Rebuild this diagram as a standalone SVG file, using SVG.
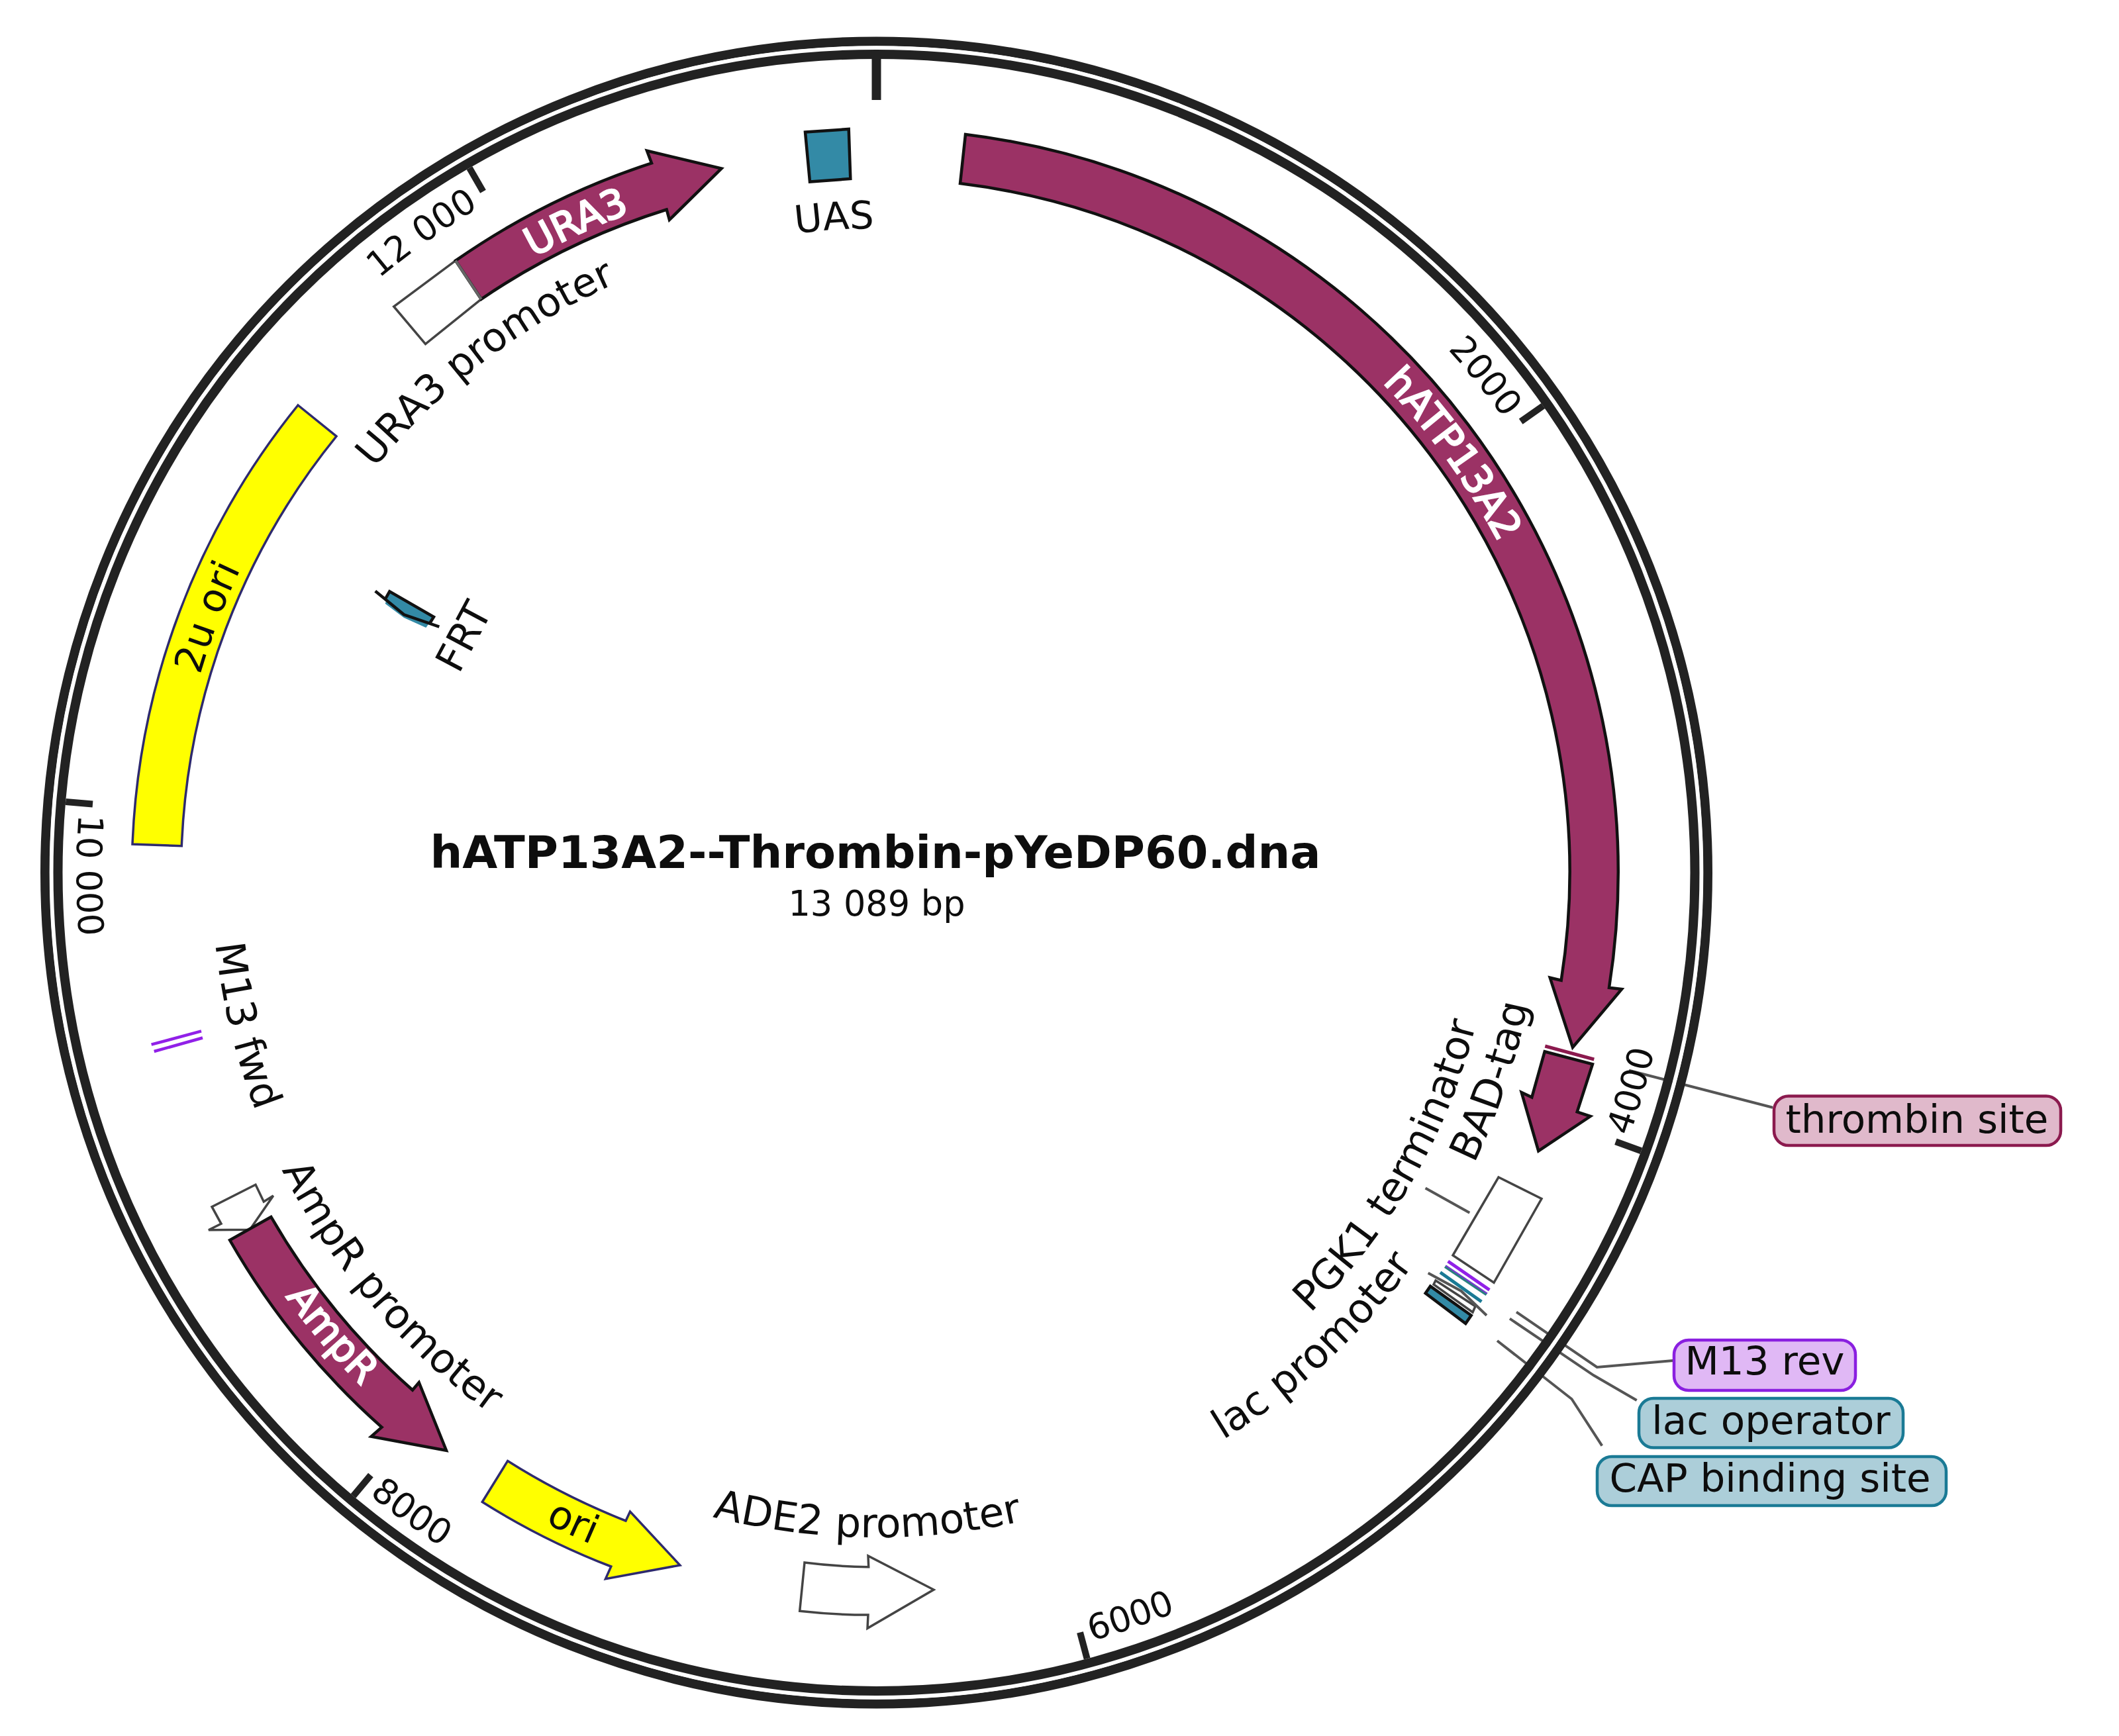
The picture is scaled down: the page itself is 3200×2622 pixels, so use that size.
<svg xmlns="http://www.w3.org/2000/svg" width="3200" height="2622" viewBox="0 0 3200 2622">
<style>
text{font-family:"DejaVu Sans","Liberation Sans",sans-serif;font-size:59.5px;fill:#0d0d0d;text-anchor:middle}
.tick{font-size:53px}
.lab{font-size:61.5px}
.wl{fill:#fff;stroke:#fff;stroke-width:2.5px}
.ring{fill:none;stroke:#222;stroke-width:14}
.tk{stroke:#222;stroke-width:10;fill:none}
.gene{fill:#9b3265;stroke:#111;stroke-width:4.5;stroke-linejoin:miter}
.yel{fill:#ff0;stroke:#2e2a6e;stroke-width:3.5}
.prom{fill:#fff;stroke:#444;stroke-width:3.5}
.teal{fill:#338aa6;stroke:#111;stroke-width:4.5}
.lead{fill:none;stroke:#555;stroke-width:4}
.box{stroke-width:4.5}
</style>
<defs>
<path id="c973" d="M0,973A973,973 0 1 1 0,-973A973,973 0 1 1 0,973"/>
<path id="c1064" d="M0,1064A1064,1064 0 1 1 0,-1064A1064,1064 0 1 1 0,1064"/>
<path id="c1170" d="M0,1170A1170,1170 0 1 1 0,-1170A1170,1170 0 1 1 0,1170"/>
<path id="a934" d="M0,-934A934,934 0 1 0 0,934A934,934 0 1 0 0,-934"/>
<path id="a1004" d="M0,-1004A1004,1004 0 1 0 0,1004A1004,1004 0 1 0 0,-1004"/>
<path id="a1098" d="M0,-1098A1098,1098 0 1 0 0,1098A1098,1098 0 1 0 0,-1098"/>
<path id="a1102" d="M0,-1102A1102,1102 0 1 0 0,1102A1102,1102 0 1 0 0,-1102"/>
<path id="a1205" d="M0,-1205A1205,1205 0 1 0 0,1205A1205,1205 0 1 0 0,-1205"/>
<path id="a1208" d="M0,-1208A1208,1208 0 1 0 0,1208A1208,1208 0 1 0 0,-1208"/>
<path id="a1212" d="M0,-1212A1212,1212 0 1 0 0,1212A1212,1212 0 1 0 0,-1212"/>
</defs>
<rect width="3200" height="2622" fill="#fff"/>
<g id="connectors">
<path class="lead" d="M2460,1616.7L2677,1672.7"/>
<path class="lead" d="M2152.6,1794.4L2219.3,1831.7"/>
<path class="lead" d="M2290,1981.7L2411.7,2065L2526.7,2055"/>
<path class="lead" d="M2280,1991.7L2406.7,2077.3L2471.7,2115"/>
<path class="lead" d="M2261,2025L2373.5,2113L2419.3,2183.6"/>
</g>
<g id="backbone">
<circle class="ring" cx="1323.5" cy="1318" r="1255.5"/>
<circle cx="1323.5" cy="1318" r="1245.8" fill="none" stroke="#fff" stroke-width="6"/>
<circle class="ring" cx="1323.5" cy="1318" r="1236"/>
<path class="tk" style="stroke-width:14" d="M1323.5,89V151"/>
<path class="tk" d="M2330.3,613L2296.7,636.6"/>
<path class="tk" d="M2478.4,1738.3L2439.9,1724.3"/>
<path class="tk" d="M1641.6,2505.1L1631,2465.5"/>
<path class="tk" d="M533.5,2259.5L559.9,2228"/>
<path class="tk" d="M99.2,1210.9L140,1214.4"/>
<path class="tk" d="M709,253.7L729.5,289.2"/>
<text class="tick" transform="translate(1323.5 1318) rotate(50.8)"><textPath href="#c1170" startOffset="50%">2000</textPath></text>
<text class="tick" transform="translate(1323.5 1318) rotate(-73.9)"><textPath href="#a1205" startOffset="50%">4000</textPath></text>
<text class="tick" transform="translate(1323.5 1318) rotate(-18.85)"><textPath href="#a1205" startOffset="50%">6000</textPath></text>
<text class="tick" transform="translate(1323.5 1318) rotate(36)"><textPath href="#a1212" startOffset="50%">8000</textPath></text>
<text class="tick" transform="translate(1323.5 1318) rotate(89.8)"><textPath href="#a1208" startOffset="50%">10 000</textPath></text>
<text class="tick" transform="translate(1323.5 1318) rotate(-35.4)"><textPath href="#c1170" startOffset="50%">12 000</textPath></text>
</g>
<g id="title">
<text x="1322" y="1310.7" font-weight="bold" style="font-size:68.5px">hATP13A2--Thrombin-pYeDP60.dna</text>
<text x="1324" y="1382.7" style="font-size:52.5px">13 089 bp</text>
</g>
<g id="uas">
<path class="teal" d="M1216,199.5L1281.7,195L1284.3,270L1223,274.6Z"/>
<text style="font-size:58px" transform="translate(1323.5 1318) rotate(-3.7)"><textPath href="#c973" startOffset="50%">UAS</textPath></text>
</g>
<g id="hatp13a2">
<path class="gene" d="M1458,203A1123,1123 0 0 1 2430,1491.7L2449,1494L2375,1582L2340.7,1476.7L2357.7,1480.7A1048,1048 0 0 0 1450,277Z"/>
<text class="wl" transform="translate(1323.5 1318) rotate(54)"><textPath href="#c1064" startOffset="50%">hATP13A2</textPath></text>
</g>
<g id="thrombin-site">
<path d="M2333.3,1580L2407.3,1600" fill="none" stroke="#8b1a4e" stroke-width="5"/>
<rect class="box" x="2679" y="1655.5" width="433" height="74.5" rx="22" fill="#e0b9cb" stroke="#8b1a4e"/>
<text x="2895" y="1711">thrombin site</text>
</g>
<g id="bad-tag">
<path class="gene" d="M2332.7,1588.3L2405,1607.3L2381.7,1679.3L2401.7,1686L2323.3,1738.3L2297.7,1650L2313.3,1657.3Z"/>
<text class="lab" transform="translate(1323.5 1318) rotate(-71.3)"><textPath href="#a1004" startOffset="50%">BAD-tag</textPath></text>
</g>
<g id="pgk1-terminator">
<path class="prom" d="M2263,1778L2328,1810.5L2256,1937.3L2194,1896Z"/>
<text class="lab" transform="translate(1323.5 1318) rotate(-60.2)"><textPath href="#a934" startOffset="50%">PGK1 terminator</textPath></text>
</g>
<g id="m13-rev">
<path d="M2186.7,1905L2249.3,1948.3" fill="none" stroke="#9120e8" stroke-width="5"/>
<rect class="box" x="2528" y="2024" width="274" height="76" rx="22" fill="#e0b8f5" stroke="#8a1fe0"/>
<text x="2665" y="2076">M13 rev</text>
</g>
<g id="lac-operator">
<path d="M2182.3,1912.7L2245,1955" fill="none" stroke="#2a7f80" stroke-width="5"/>
<path d="M2183.3,1911.4L2246,1953.7" fill="none" stroke="#7a3ad0" stroke-width="2"/>
<rect class="box" x="2475" y="2112" width="399" height="74.5" rx="22" fill="#acced9" stroke="#1a7a95"/>
<text x="2674.5" y="2166">lac operator</text>
</g>
<g id="cap-binding-site">
<path d="M2175,1921.7L2237.3,1966" fill="none" stroke="#1a7a95" stroke-width="5"/>
<rect class="box" x="2412" y="2200" width="527" height="74" rx="22" fill="#acced9" stroke="#1a7a95"/>
<text x="2673" y="2252.5">CAP binding site</text>
</g>
<g id="lac-promoter">
<path class="prom" d="M2168,1934L2228,1973L2224,1982L2165,1940Z"/>
<path class="lead" d="M2156.7,1922.7L2206.7,1950L2245,1986.7"/>
<path class="teal" d="M2160,1942.7L2221.7,1986.7L2213.3,1999L2152.7,1953.3Z"/>
<text class="lab" transform="translate(1323.5 1318) rotate(-42.65)"><textPath href="#a1004" startOffset="50%">lac promoter</textPath></text>
</g>
<g id="ade2-promoter">
<path class="prom" d="M1215,2360Q1262,2366 1311.7,2366.7L1311,2350L1410,2401L1310,2459.3L1311,2439Q1258,2439 1207.7,2433.3Z"/>
<text class="lab" transform="translate(1323.5 1318) rotate(0.8)"><textPath href="#a1004" startOffset="50%">ADE2 promoter</textPath></text>
</g>
<g id="ori">
<path class="yel" d="M766.6,2206.6L728.3,2268.5A1122,1122 0 0 0 922.8,2366L914.5,2384.6L1026.8,2364L951.5,2283L945,2297A1049,1049 0 0 1 766.6,2206.6Z"/>
<text transform="translate(1323.5 1318) rotate(25)"><textPath href="#a1102" startOffset="50%">ori</textPath></text>
</g>
<g id="ampr-promoter">
<path class="prom" d="M386,1789.3L320,1822.7L334,1848.3L315,1857.7L377.3,1857.3L412.7,1806L398.3,1815Z"/>
<text class="lab" transform="translate(1323.5 1318) rotate(49.5)"><textPath href="#a1004" startOffset="50%">AmpR promoter</textPath></text>
</g>
<g id="ampr">
<path class="gene" d="M409.4,1838L347,1873A1123,1123 0 0 0 576.5,2155.6L560.6,2169.6L674,2190.7L632.7,2088L623,2099.5A1050,1050 0 0 1 409.4,1838Z"/>
<text class="wl" transform="translate(1323.5 1318) rotate(49.7)"><textPath href="#a1098" startOffset="50%">AmpR</textPath></text>
</g>
<g id="m13-fwd">
<path d="M228.6,1577.7L304,1557.4M232.7,1588L306,1567.5" fill="none" stroke="#9120e8" stroke-width="4.5"/>
<text class="lab" transform="translate(1323.5 1318) rotate(76.4)"><textPath href="#a1004" startOffset="50%">M13 fwd</textPath></text>
</g>
<g id="ori-2u">
<path class="yel" d="M450,612L508,659A1050,1050 0 0 0 274.3,1277.7L200,1275A1124,1124 0 0 1 450,612Z"/>
<text transform="translate(1323.5 1318) rotate(-69.1)"><textPath href="#c1064" startOffset="50%">2u ori</textPath></text>
</g>
<g id="frt">
<path d="M588.3,893.3L655,931.7L643.3,948L610,933L581.7,911.7Z" fill="#338aa6"/>
<path d="M566.7,892.7L581.7,905L610,928.3L663.3,946.7M581.7,905L588.3,893.3L655,931.7L648,943" fill="none" stroke="#111" stroke-width="4.5"/>
<text x="0" y="0" transform="translate(693 1019) rotate(-62)" style="font-size:60px;text-anchor:start">FRT</text>
</g>
<g id="ura3-promoter">
<path class="prom" d="M688,393.7L594.7,463L642.5,519.6L726.7,451.8Z"/>
<text style="font-size:60.5px" transform="translate(1323.5 1318) rotate(-37.5)"><textPath href="#c973" startOffset="50%">URA3 promoter</textPath></text>
</g>
<g id="ura3">
<path class="gene" d="M688,393.7A1122,1122 0 0 1 984,246.4L977,227.7L1089.5,254.5L1010.9,332L1006.7,316.5A1052,1052 0 0 0 726.7,451.8Z"/>
<path d="M688,393.7L726.7,451.8" stroke="#666" stroke-width="4" fill="none"/>
<text class="wl" transform="translate(1323.5 1318) rotate(-24.8)"><textPath href="#c1064" startOffset="50%">URA3</textPath></text>
</g>
</svg>
